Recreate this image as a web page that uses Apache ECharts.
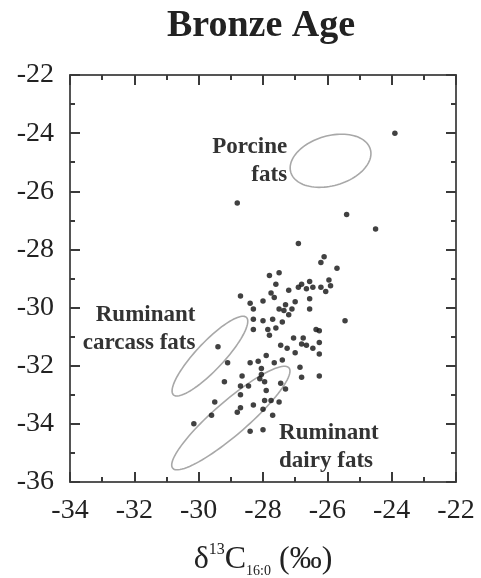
<!DOCTYPE html>
<html>
<head>
<meta charset="utf-8">
<script src="https://cdn.jsdelivr.net/npm/echarts@6/dist/echarts.min.js"></script>
<style>html,body{margin:0;padding:0;background:#fff}#chart{width:481px;height:578px}</style>
</head>
<body>
<div id="chart"></div>
<script>
// δ13C16:0 (x) and δ13C18:0 (y) values
const sampleX = [
 -23.9, -28.8, -25.4, -24.5, -26.9, -26.1, -26.2, -25.7, -25.45,
 -27.5, -27.8, -27.6, -26.8, -26.55, -26.45, -26.65, -27.2, -26.9, -26.2,
 -25.95, -25.9, -26.05, -28.0, -27.75, -27.65, -27.0, -26.55, -27.3, -27.1,
 -27.35, -27.2, -27.5, -26.55, -28.0, -27.7, -27.4, -27.85, -27.6, -26.35,
 -26.25, -27.05, -26.75, -28.7, -28.4, -28.3, -28.3, -28.3, -27.8,
 -29.4, -29.1, -29.2, -28.65, -28.4, -28.15, -28.05, -28.05, -28.1, -28.45,
 -27.9, -28.7, -29.5, -28.7, -28.8, -28.3, -28.0, -29.6, -30.15, -28.7,
 -26.8, -27.45, -27.25, -27.0, -26.65, -26.45, -26.25, -26.25, -27.65, -27.4,
 -26.85, -26.8, -26.25, -27.95, -27.45, -27.9, -27.3, -27.95, -27.75, -27.5,
 -27.7, -28.4, -28.0
];
const sampleY = [
 -24.0, -26.4, -26.8, -27.3, -27.8, -28.25, -28.45, -28.65, -30.45,
 -28.8, -28.9, -29.2, -29.2, -29.1, -29.3, -29.35, -29.4, -29.3, -29.3,
 -29.05, -29.25, -29.45, -29.77, -29.5, -29.65, -29.8, -29.7, -29.9, -30.05,
 -30.1, -30.25, -30.05, -30.05, -30.45, -30.4, -30.5, -30.75, -30.7, -30.75,
 -30.8, -31.05, -31.05, -29.6, -29.85, -30.05, -30.4, -30.75, -30.95,
 -31.35, -31.9, -32.55, -32.35, -31.9, -31.85, -32.1, -32.3, -32.45, -32.7,
 -31.65, -33.0, -33.25, -33.45, -33.6, -33.35, -33.5, -33.7, -34.0, -32.7,
 -31.25, -31.3, -31.4, -31.55, -31.3, -31.4, -31.2, -31.6, -31.9, -31.8,
 -32.05, -32.4, -32.35, -32.55, -32.6, -32.85, -32.8, -33.2, -33.2, -33.25,
 -33.7, -34.25, -34.2
];

// Reference-fat ellipses (data units): centre, semi-axes, rotation (deg)
const ellipseNames = ['Porcine fats', 'Ruminant carcass fats', 'Ruminant dairy fats'];
const ellipseCx = [-25.9, -29.65, -29.0];
const ellipseCy = [-24.95, -31.67, -33.8];
const ellipseRx = [1.3, 1.75, 2.5];
const ellipseRy = [0.85, 0.45, 0.55];
const ellipseAngle = [20, 50, 44];

// Group labels
const labelText = ['Porcine\nfats', 'Ruminant\ncarcass fats', 'Ruminant\ndairy fats'];
const labelX = [-27.25, -30.1, -27.5];
const labelY = [-24.97, -30.75, -34.8];
const labelAlign = ['right', 'right', 'left'];

// Axis ranges / ticks
const xMin = -34, xMax = -22, xStep = 2;
const yMin = -36, yMax = -22, yStep = 2;

const points = sampleX.map((x, i) => [x, sampleY[i]]);
const ellipses = ellipseCx.map((cx, i) => [cx, ellipseCy[i], ellipseRx[i], ellipseRy[i], ellipseAngle[i]]);
const labels = labelX.map((x, i) => [x, labelY[i], i]);

const SERIF = '"Liberation Serif", "Times New Roman", serif';
const axisColor = '#555';

function frameAxis(pos, isX, showLabel) {
  return {
    type: 'value',
    position: pos,
    min: isX ? xMin : yMin,
    max: isX ? xMax : yMax,
    interval: isX ? xStep : yStep,
    axisLine: { show: true, onZero: false, lineStyle: { color: axisColor, width: 2 } },
    axisTick: { show: true, inside: true, length: 10, lineStyle: { color: '#3a3a3a', width: 2 } },
    minorTick: { show: true, splitNumber: 2, length: 5, lineStyle: { color: '#3a3a3a', width: 2 } },
    splitLine: { show: false },
    minorSplitLine: { show: false },
    axisLabel: { show: showLabel, fontSize: 28, fontFamily: SERIF, color: '#222', margin: isX ? 15 : 16 }
  };
}

const xBottom = frameAxis('bottom', true, true);
xBottom.name = '{g|δ}{sup|13}{g|C}{sub|16:0}{g| (‰)}';
xBottom.nameLocation = 'middle';
xBottom.nameGap = 60;
xBottom.nameTextStyle = {
  fontFamily: SERIF, color: '#222', fontSize: 32,
  rich: {
    g: { fontSize: 32, fontFamily: SERIF, color: '#222', lineHeight: 36 },
    sup: { fontSize: 16, fontFamily: SERIF, color: '#222', verticalAlign: 'top', lineHeight: 16 },
    sub: { fontSize: 14, fontFamily: SERIF, color: '#222', verticalAlign: 'bottom', lineHeight: 14 }
  }
};

const chart = echarts.init(document.getElementById('chart'), null, { renderer: 'canvas' });
chart.setOption({
  backgroundColor: '#fff',
  animation: false,
  grid: { left: 70, right: 25, top: 75, bottom: 96, containLabel: false, outerBoundsMode: 'none' },
  xAxis: [xBottom, frameAxis('top', true, false)],
  yAxis: [frameAxis('left', false, true), frameAxis('right', false, false)],
  graphic: [{
    type: 'text', x: 261, y: 26,
    style: { text: 'Bronze Age', font: 'bold 38px ' + SERIF, fill: '#222', align: 'center', verticalAlign: 'middle' }
  }],
  series: [
    {
      type: 'custom', name: 'ellipses', xAxisIndex: 0, yAxisIndex: 0,
      data: ellipses, encode: { x: 0, y: 1 }, silent: true, z: 1,
      renderItem: function (params, api) {
        const cx = api.value(0), cy = api.value(1), rx = api.value(2), ry = api.value(3);
        const a = api.value(4) * Math.PI / 180;
        const pts = [];
        for (let k = 0; k <= 96; k++) {
          const t = k / 96 * 2 * Math.PI;
          const dx = rx * Math.cos(t), dy = ry * Math.sin(t);
          pts.push(api.coord([cx + dx * Math.cos(a) - dy * Math.sin(a), cy + dx * Math.sin(a) + dy * Math.cos(a)]));
        }
        return { type: 'polygon', shape: { points: pts }, style: { fill: null, stroke: '#a8a8a8', lineWidth: 1.6 } };
      }
    },
    {
      type: 'custom', name: 'labels', xAxisIndex: 0, yAxisIndex: 0,
      data: labels, encode: { x: 0, y: 1 }, silent: true, z: 3,
      renderItem: function (params, api) {
        const p = api.coord([api.value(0), api.value(1)]);
        const i = api.value(2);
        return {
          type: 'text', x: p[0], y: p[1],
          style: { text: labelText[i], align: labelAlign[i], verticalAlign: 'middle',
            fontSize: 23, fontWeight: 'bold', fontFamily: SERIF, fill: '#333', lineHeight: 28 }
        };
      }
    },
    {
      type: 'scatter', name: 'Bronze Age', xAxisIndex: 0, yAxisIndex: 0,
      data: points, symbol: 'circle', symbolSize: 5.5, itemStyle: { color: '#111' }, z: 4
    }
  ]
});
</script>
</body>
</html>
